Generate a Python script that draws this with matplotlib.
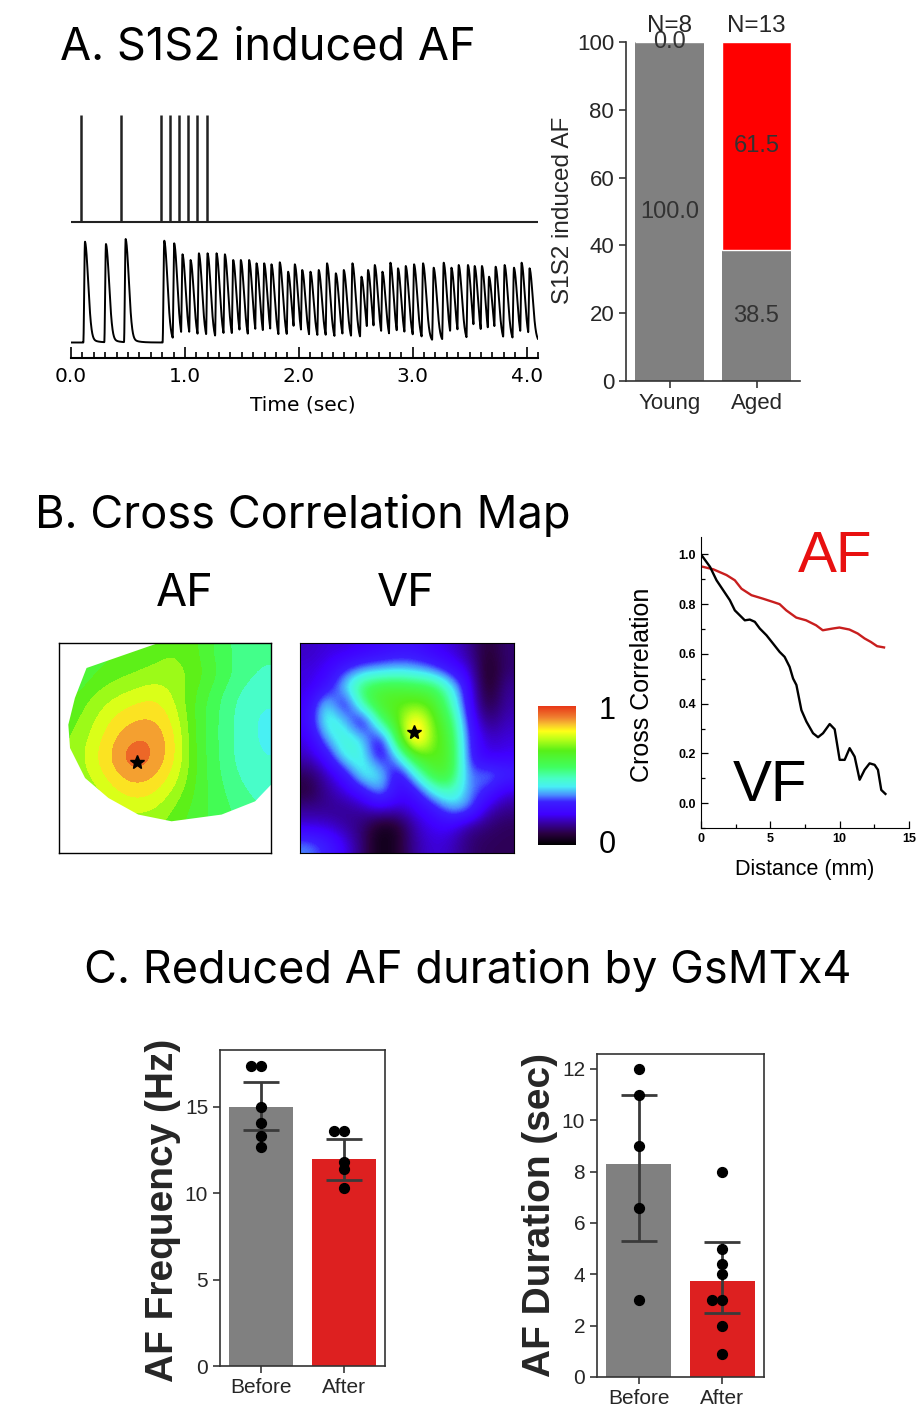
import numpy as np
import matplotlib.pyplot as plt
from matplotlib.colors import LinearSegmentedColormap
from matplotlib.patches import Polygon
from matplotlib.ticker import MultipleLocator

plt.rcParams['font.family'] = ['Liberation Sans', 'DejaVu Sans']

# ---------------- data ----------------
# A: stimulus pulses and optical AP peaks (time in s, peak height in trace units)
stim_times = [0.09, 0.44, 0.79, 0.87, 0.95, 1.03, 1.11, 1.19]
beat_times = [0.123, 0.307, 0.48, 0.819, 0.906, 0.979, 1.05, 1.123, 1.199, 1.278,
              1.351, 1.424, 1.491, 1.564, 1.629, 1.696, 1.76, 1.833, 1.906, 1.965,
              2.03, 2.102, 2.175, 2.248, 2.325, 2.395, 2.471, 2.55, 2.608, 2.667,
              2.734, 2.804, 2.871, 2.939, 3.012, 3.091, 3.184, 3.272, 3.34, 3.404,
              3.485, 3.544, 3.608, 3.67, 3.728, 3.807, 3.889, 3.956, 4.026]
beat_peaks = [115.8, 113.5, 118.5, 116.8, 114.2, 103.2, 97.5, 104.2, 104.2, 104.2,
              103.2, 97.5, 97.5, 97.5, 94.2, 94.2, 93.2, 95.2, 85.8, 93.2,
              87.5, 85.8, 87.5, 94.2, 84.2, 87.5, 94.2, 80.8, 87.5, 92.5,
              85.8, 94.8, 89.2, 91.5, 93.2, 94.2, 89.8, 94.8, 89.8, 92.5,
              92.5, 91.5, 91.5, 80.8, 90.8, 92.5, 89.8, 94.8, 89.2]
trace_base = 15.0

groups_a = ['Young', 'Aged']
no_af_pct = [100.0, 38.5]
af_pct = [0.0, 61.5]
n_text = ['N=8', 'N=13']

# B: correlation maps (coarse grids, top row first)
af_map = [
    [0.60, 0.62, 0.64, 0.66, 0.68, 0.70, 0.66, 0.58, 0.53, 0.51],
    [0.56, 0.64, 0.68, 0.70, 0.72, 0.73, 0.68, 0.60, 0.53, 0.49],
    [0.64, 0.70, 0.74, 0.77, 0.80, 0.74, 0.64, 0.56, 0.49, 0.46],
    [0.67, 0.73, 0.80, 0.84, 0.85, 0.78, 0.63, 0.55, 0.48, 0.44],
    [0.69, 0.76, 0.84, 0.90, 0.90, 0.81, 0.63, 0.55, 0.48, 0.44],
    [0.70, 0.78, 0.86, 0.96, 0.90, 0.81, 0.64, 0.55, 0.48, 0.45],
    [0.68, 0.75, 0.82, 0.87, 0.85, 0.77, 0.64, 0.56, 0.50, 0.46],
    [0.66, 0.70, 0.76, 0.80, 0.78, 0.71, 0.63, 0.57, 0.53, 0.49],
    [0.64, 0.66, 0.70, 0.72, 0.72, 0.67, 0.62, 0.58, 0.54, 0.51],
    [0.64, 0.65, 0.68, 0.70, 0.70, 0.66, 0.62, 0.58, 0.54, 0.51],
]
af_outline = [(0.13, 0.881), (0.469, 1.0), (1.0, 1.0), (1.0, 0.325), (0.925, 0.246),
              (0.767, 0.183), (0.531, 0.151), (0.374, 0.183), (0.233, 0.262),
              (0.123, 0.357), (0.052, 0.5), (0.044, 0.611), (0.075, 0.738)]
af_star = (0.366, 0.433)

vf_map = [
    [0.18, 0.20, 0.20, 0.22, 0.24, 0.26, 0.26, 0.22, 0.20, 0.15, 0.06, 0.12],
    [0.20, 0.22, 0.30, 0.36, 0.38, 0.40, 0.38, 0.34, 0.26, 0.20, 0.03, 0.12],
    [0.20, 0.26, 0.42, 0.58, 0.62, 0.62, 0.60, 0.58, 0.44, 0.24, 0.03, 0.15],
    [0.22, 0.46, 0.22, 0.52, 0.66, 0.68, 0.70, 0.66, 0.50, 0.25, 0.06, 0.16],
    [0.24, 0.48, 0.42, 0.20, 0.54, 0.68, 0.90, 0.68, 0.58, 0.28, 0.12, 0.18],
    [0.20, 0.38, 0.48, 0.42, 0.22, 0.62, 0.93, 0.70, 0.62, 0.30, 0.18, 0.20],
    [0.18, 0.25, 0.45, 0.46, 0.24, 0.40, 0.66, 0.68, 0.64, 0.30, 0.20, 0.22],
    [0.10, 0.18, 0.26, 0.46, 0.44, 0.22, 0.44, 0.64, 0.62, 0.32, 0.38, 0.32],
    [0.07, 0.15, 0.20, 0.26, 0.40, 0.24, 0.26, 0.44, 0.50, 0.36, 0.30, 0.20],
    [0.15, 0.14, 0.14, 0.16, 0.20, 0.18, 0.22, 0.26, 0.38, 0.36, 0.18, 0.14],
    [0.20, 0.20, 0.16, 0.12, 0.03, 0.05, 0.18, 0.22, 0.22, 0.14, 0.12, 0.10],
    [0.36, 0.30, 0.22, 0.12, 0.02, 0.06, 0.16, 0.20, 0.18, 0.12, 0.10, 0.10],
]
vf_star = (0.533, 0.575)

# B: cross correlation vs distance
af_dist = [0, 0.89, 1.84, 2.44, 2.92, 3.64, 4.47, 5.19, 5.67, 6.15, 6.87, 7.58,
           8.3, 8.78, 9.5, 9.98, 10.7, 11.3, 11.8, 12.25, 12.7, 13.2]
af_corr = [0.952, 0.94, 0.917, 0.896, 0.862, 0.836, 0.822, 0.809, 0.8, 0.775, 0.746,
           0.735, 0.715, 0.695, 0.702, 0.706, 0.698, 0.682, 0.662, 0.648, 0.631, 0.626]
vf_dist = [0, 0.65, 1.12, 1.6, 2.08, 2.44, 2.8, 3.16, 3.52, 3.88, 4.24, 4.72, 5.19,
           5.67, 6.03, 6.39, 6.64, 6.88, 7.24, 7.6, 8.08, 8.44, 8.8, 9.28, 9.64, 10.0,
           10.36, 10.72, 11.08, 11.44, 11.8, 12.16, 12.52, 12.76, 13.0, 13.3]
vf_corr = [1.0, 0.95, 0.896, 0.856, 0.816, 0.775, 0.755, 0.735, 0.738, 0.729, 0.702,
           0.675, 0.642, 0.608, 0.588, 0.548, 0.501, 0.475, 0.374, 0.328, 0.281, 0.265,
           0.281, 0.318, 0.297, 0.174, 0.174, 0.221, 0.187, 0.094, 0.134, 0.16, 0.154,
           0.134, 0.053, 0.037]

# C: GsMTx4
conds = ['Before', 'After']
freq_mean = [15.0, 12.0]
freq_lo = [13.65, 10.8]
freq_hi = [16.45, 13.16]
freq_pts = [[17.4, 17.4, 15.0, 14.1, 13.3, 12.7], [13.6, 13.6, 11.8, 11.4, 10.3]]
dur_mean = [8.28, 3.74]
dur_lo = [5.3, 2.5]
dur_hi = [11.0, 5.24]
dur_pts = [[12, 11, 9, 6.6, 3], [8, 5, 4.4, 4, 3, 3, 2, 0.9]]

# ---------------- layout helpers ----------------
W, H = 924, 1414
fig = plt.figure(figsize=(W / 100, H / 100), dpi=100)


def add_ax(x0, y0, x1, y1):
    return fig.add_axes([x0 / W, 1 - y1 / H, (x1 - x0) / W, (y1 - y0) / H])


def ftext(x, y, s, **kw):
    return fig.text(x / W, 1 - y / H, s, **kw)


title_font = ['Inter', 'DejaVu Sans']
title_size = 32.5
dark = '#262626'

# ---------------- A: traces ----------------
ax = add_ax(71, 102.5, 538, 357.5)
t = np.arange(0, 4.1, 0.001)
rise = 0.015
resp = np.zeros_like(t)
for bt, pk in zip(beat_times, beat_peaks):
    dt = t - bt
    up = 0.5 * (1 - np.cos(np.pi * np.clip(1 + dt / rise, 0, 1)))
    down = 0.9 * np.exp(-(dt / 0.039) ** 2) + 0.1 * np.exp(-np.clip(dt, 0, None) / 0.05)
    shape = np.where(dt < 0, up, down)
    resp = np.maximum(resp, (pk - trace_base) * shape)
ax.plot(t, trace_base + resp, color='black', lw=1.4)
ax.hlines(135.5, 0.0, 4.1, color='#222222', lw=1.5)
ax.vlines(stim_times, 135.5, 242.5, color='#222222', lw=1.8)
ax.set_xlim(0, 4.1)
ax.set_ylim(0, 255)
for s in ['left', 'right', 'top']:
    ax.spines[s].set_visible(False)
ax.spines['bottom'].set_linewidth(1.5)
ax.set_yticks([])
ax.set_xticks([0, 1, 2, 3, 4])
ax.set_xticklabels(['0.0', '1.0', '2.0', '3.0', '4.0'], family='DejaVu Sans', fontsize=14.5)
ax.xaxis.set_minor_locator(MultipleLocator(0.1))
ax.tick_params(axis='x', which='major', direction='in', length=8, width=1.2, pad=7)
ax.tick_params(axis='x', which='minor', direction='in', length=4.5, width=1.2)
ax.patch.set_alpha(0)
ftext(303, 405, 'Time (sec)', family='DejaVu Sans', fontsize=14.5, ha='center', va='center')

ftext(60, 48, 'A. S1S2 induced AF', family=title_font, fontsize=title_size, ha='left', va='center')

# ---------------- A: stacked bars ----------------
ax = add_ax(626, 42, 800, 381)
xa = np.arange(len(groups_a))
b1 = ax.bar(xa, no_af_pct, 0.79, color='#808080')
b2 = ax.bar(xa, af_pct, 0.79, bottom=no_af_pct, color='#ff0000', edgecolor='white', linewidth=1)
ax.bar_label(b1, fmt='%.1f', label_type='center', color='#333333', fontsize=17)
ax.bar_label(b2, fmt='%.1f', label_type='center', color='#333333', fontsize=17)
for i, s in enumerate(n_text):
    ax.text(i, 104.8, s, ha='center', va='center', fontsize=17.5, color=dark, clip_on=False)
ax.set_xlim(-0.5, 1.5)
ax.set_ylim(0, 100)
ax.set_xticks(xa)
ax.set_xticklabels(groups_a)
ax.set_yticks(range(0, 101, 20))
ax.tick_params(labelsize=16, colors=dark, length=5, width=1.1)
for s in ['right', 'top']:
    ax.spines[s].set_visible(False)
for s in ['left', 'bottom']:
    ax.spines[s].set_color('#333333')
    ax.spines[s].set_linewidth(1.2)
ftext(563, 210, 'S1S2 induced AF', fontsize=17.5, color=dark, rotation=90, ha='center', va='center')

# ---------------- B: maps ----------------
cmap = LinearSegmentedColormap.from_list('xcorr', [
    (0.0, '#000000'), (0.08, '#2a0040'), (0.16, '#3800a8'), (0.22, '#4000ff'),
    (0.31, '#3c20ff'), (0.36, '#4a90ff'), (0.42, '#48f0f4'), (0.48, '#48ffc4'),
    (0.56, '#40ff60'), (0.68, '#58f018'), (0.76, '#b8ff18'), (0.82, '#ffff18'),
    (0.87, '#f8c030'), (0.92, '#f08030'), (1.0, '#e83818')])

ftext(35, 516, 'B. Cross Correlation Map', family=title_font, fontsize=title_size, ha='left', va='center')
ftext(185, 594, 'AF', family=title_font, fontsize=title_size, ha='center', va='center')
ftext(406, 594, 'VF', family=title_font, fontsize=title_size, ha='center', va='center')

ax = add_ax(59, 643, 271, 853)
im = ax.imshow(np.array(af_map), cmap=cmap.resampled(20), vmin=0, vmax=1,
               interpolation='bicubic', interpolation_stage='data',
               extent=[0, 1, 0, 1], aspect='auto')
clip = Polygon(af_outline, closed=True, transform=ax.transData, facecolor='none', edgecolor='none')
ax.add_patch(clip)
im.set_clip_path(clip)
ax.plot(*af_star, marker='*', color='black', markersize=10)
ax.set_xlim(0, 1)
ax.set_ylim(0, 1)
ax.set_xticks([])
ax.set_yticks([])
for s in ax.spines.values():
    s.set_linewidth(1.0)

ax = add_ax(300, 643, 514, 853)
ax.imshow(np.array(vf_map), cmap=cmap, vmin=0, vmax=1, interpolation='bicubic',
          interpolation_stage='data', extent=[0, 1, 0, 1], aspect='auto')
ax.plot(*vf_star, marker='*', color='black', markersize=10)
ax.set_xlim(0, 1)
ax.set_ylim(0, 1)
ax.set_xticks([])
ax.set_yticks([])
for s in ax.spines.values():
    s.set_linewidth(0.8)

ax = add_ax(538, 706, 576, 845)
ax.imshow(np.linspace(0, 1, 256).reshape(-1, 1), cmap=cmap, origin='lower', aspect='auto',
          extent=[0, 1, 0, 1])
ax.set_xticks([])
ax.set_yticks([])
for s in ax.spines.values():
    s.set_visible(False)
ftext(607, 711, '1', fontsize=22, ha='center', va='center')
ftext(607, 845, '0', fontsize=22, ha='center', va='center')

# ---------------- B: correlation curves ----------------
ax = add_ax(701, 537, 909, 828)
ax.plot(af_dist, af_corr, color='#c81e1e', lw=1.7)
ax.plot(vf_dist, vf_corr, color='black', lw=1.7)
ax.set_xlim(0, 15)
ax.set_ylim(-0.1, 1.07)
ax.set_xticks([0, 5, 10, 15])
ax.set_yticks([0.0, 0.2, 0.4, 0.6, 0.8, 1.0])
ax.set_yticklabels(['0.0', '0.2', '0.4', '0.6', '0.8', '1.0'])
ax.xaxis.set_minor_locator(MultipleLocator(2.5))
ax.yaxis.set_minor_locator(MultipleLocator(0.1))
ax.tick_params(which='both', direction='in', width=0.9)
ax.tick_params(which='major', length=5, labelsize=9)
ax.tick_params(which='minor', length=3)
for lab in ax.get_xticklabels() + ax.get_yticklabels():
    lab.set_fontweight('bold')
for s in ['right', 'top']:
    ax.spines[s].set_visible(False)
ax.patch.set_alpha(0)
ax.text(9.7, 0.99, 'AF', color='#e81010', fontsize=42, ha='center', va='center')
ax.text(5.0, 0.07, 'VF', color='black', fontsize=42, ha='center', va='center')
ftext(642, 685, 'Cross Correlation', fontsize=18, rotation=90, ha='center', va='center')
ftext(805, 870, 'Distance (mm)', fontsize=15.5, ha='center', va='center')

# ---------------- C ----------------
ftext(468, 970, 'C. Reduced AF duration by GsMTx4', family=title_font, fontsize=title_size,
      ha='center', va='center')
bar_cols = ['#808080', '#dd2020']


def summary_panel(ax, mean, lo, hi, pts, ymax, ticks, label, lx, ly):
    x = np.arange(len(conds))
    ax.bar(x, mean, 0.78, color=bar_cols, zorder=1)
    yerr = [np.subtract(mean, lo), np.subtract(hi, mean)]
    ax.errorbar(x, mean, yerr=yerr, fmt='none', ecolor='#3a3a3a', elinewidth=2,
                capsize=13, capthick=2, zorder=2)
    for i, vals in enumerate(pts):
        seen = {}
        for v in vals:
            k = seen.get(v, 0)
            seen[v] = k + 1
            ax.scatter(i - 0.12 * k, v, s=50, color='black', zorder=3)
    ax.set_xlim(-0.5, 1.5)
    ax.set_ylim(0, ymax)
    ax.set_xticks(x)
    ax.set_xticklabels(conds)
    ax.set_yticks(ticks)
    ax.tick_params(labelsize=15, colors=dark, length=5, width=1.1)
    for s in ax.spines.values():
        s.set_color('#333333')
        s.set_linewidth(1.2)
    ftext(lx, ly, label, fontsize=28, fontweight='bold', color=dark, rotation=90,
          ha='center', va='center')


ax = add_ax(220, 1050, 385, 1366)
summary_panel(ax, freq_mean, freq_lo, freq_hi, freq_pts, 18.3, [0, 5, 10, 15],
              'AF Frequency (Hz)', 163, 1210)
ax = add_ax(597, 1054, 764, 1377)
summary_panel(ax, dur_mean, dur_lo, dur_hi, dur_pts, 12.58, range(0, 13, 2),
              'AF Duration (sec)', 540, 1215)

fig.savefig('out.png', dpi=100)
